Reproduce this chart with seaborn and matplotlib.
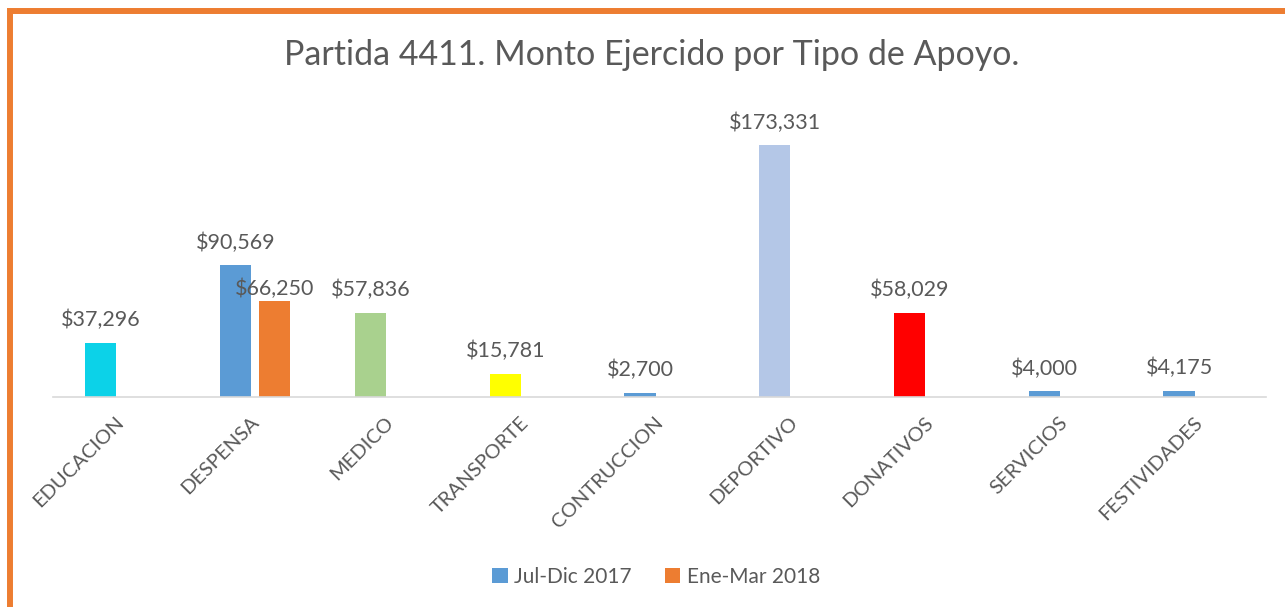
import matplotlib
matplotlib.use("Agg")
import matplotlib.pyplot as plt
import matplotlib.transforms as mtransforms
import seaborn as sns
import pandas as pd
from matplotlib.patches import Rectangle, Patch

categorias = ["EDUCACION", "DESPENSA", "MEDICO", "TRANSPORTE", "CONTRUCCION",
              "DEPORTIVO", "DONATIVOS", "SERVICIOS", "FESTIVIDADES"]
jul_dic_2017 = [37296, 90569, 57836, 15781, 2700, 173331, 58029, 4000, 4175]
cat_2018 = ["DESPENSA"]
ene_mar_2018 = [66250]
periodos = ["Jul-Dic 2017", "Ene-Mar 2018"]
colores_2017 = ["#0CD2E8", "#5B9BD5", "#A9D18E", "#FFFF00", "#5B9BD5",
                "#B4C7E7", "#FF0000", "#5B9BD5", "#5B9BD5"]
colores_serie = ["#5B9BD5", "#ED7D31"]

GRIS = "#595959"


def set_style():
    sns.set_style("white")
    plt.rcParams["font.family"] = ["Lato", "DejaVu Sans"]


def build_frame():
    a = pd.DataFrame({"tipo": categorias, "monto": jul_dic_2017, "periodo": periodos[0]})
    b = pd.DataFrame({"tipo": cat_2018, "monto": ene_mar_2018, "periodo": periodos[1]})
    return pd.concat([a, b], ignore_index=True)


set_style()
df = build_frame()

fig = plt.figure(figsize=(12.85, 6.07), dpi=100)
ax = fig.add_axes([53 / 1285, 210 / 607, 1213 / 1285, 290.4 / 607])

sns.barplot(data=df, x="tipo", y="monto", hue="periodo", order=categorias,
            hue_order=periodos, palette=colores_serie, saturation=1,
            width=0.58, gap=0.2, linewidth=0, legend=False, ax=ax)

# colores individuales de la serie 2017
for patch, c in zip(ax.containers[0].patches, colores_2017):
    patch.set_facecolor(c)

ax.bar_label(ax.containers[0], labels=[f"${v:,.0f}" for v in jul_dic_2017],
             padding=9, fontsize=15.5, color=GRIS)
ax.bar_label(ax.containers[1], labels=[f"${v:,.0f}" for v in ene_mar_2018],
             padding=1, fontsize=15.5, color=GRIS)

ax.set_ylim(0, 200000)
ax.set_xlim(-0.5, len(categorias) - 0.5)
ax.set_xlabel("")
ax.set_ylabel("")
ax.set_yticks([])
for s in ["left", "right", "top"]:
    ax.spines[s].set_visible(False)
ax.spines["bottom"].set_color("#D9D9D9")
ax.spines["bottom"].set_linewidth(1.2)
ax.tick_params(axis="x", length=0, pad=12)
shift = mtransforms.ScaledTranslation(7 / 100, 0, fig.dpi_scale_trans)
for lbl in ax.get_xticklabels():
    lbl.set_rotation(45)
    lbl.set_ha("right")
    lbl.set_va("top")
    lbl.set_fontsize(14.5)
    lbl.set_color(GRIS)
    lbl.set_transform(lbl.get_transform() + shift)

fig.text(0.5075, 1 - 55 / 607, "Partida 4411. Monto Ejercido por Tipo de Apoyo.",
         ha="center", va="center", fontsize=24.5, color=GRIS)

handles = [Patch(facecolor=c, edgecolor="none") for c in colores_serie]
fig.legend(handles, periodos, loc="center", bbox_to_anchor=(656 / 1285, 1 - 577 / 607),
           ncol=2, frameon=False, fontsize=15, labelcolor=GRIS,
           handlelength=0.75, handleheight=0.75, handletextpad=0.3, columnspacing=1.6)

# marco naranja
fig.add_artist(Rectangle((10 / 1285, -0.05), 1.2, (607 - 10.5) / 607 + 0.05,
                         fill=False, edgecolor="#ED7D31", linewidth=4.3,
                         transform=fig.transFigure, clip_on=False))

fig.savefig("out.png", dpi=100, facecolor="white")
